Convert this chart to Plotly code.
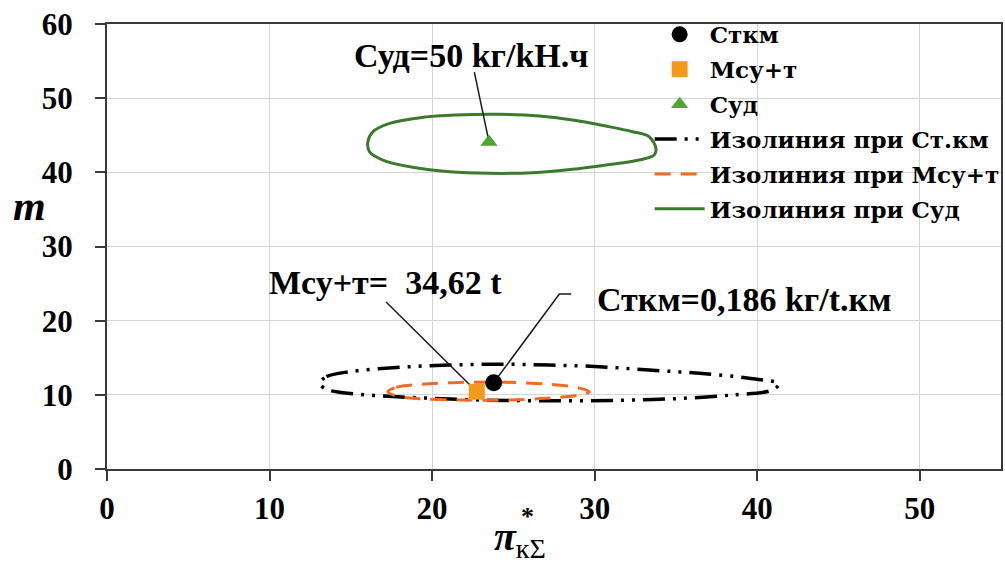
import plotly.graph_objects as go

# ---------------- data ----------------
x_range = [0, 55]
y_range = [0, 60]
x_ticks = [0, 10, 20, 30, 40, 50]
y_ticks = [0, 10, 20, 30, 40, 50, 60]

legend_names = ["Сткм", "Мсу+т", "Суд",
                "Изолиния при Ст.км", "Изолиния при Мсу+т", "Изолиния при Суд"]

# optimum points
ctkm_x, ctkm_y = [23.79], [11.64]
msu_x, msu_y = [22.75], [10.42]
sud_x, sud_y = [23.5], [44.1]

# isoline for Ст.км (black dash-dot-dot)
iso_ctkm_x = [13.08, 13.50, 14.93, 18.00, 21.07, 24.14, 27.21, 30.28, 33.35, 36.43, 39.50,
              41.34, 40.93, 38.47, 35.40, 32.33, 29.26, 26.19, 23.11, 20.04, 16.97, 14.51,
              13.50, 13.08]
iso_ctkm_y = [11.55, 12.45, 13.12, 13.71, 14.02, 14.12, 14.02, 13.79, 13.35, 12.90, 12.23,
              11.46, 10.65, 9.98, 9.53, 9.30, 9.21, 9.21, 9.30, 9.53, 9.84, 10.29,
              10.75, 11.55]

# isoline for Мсу+т (orange dashed)
iso_msu_x = [17.28, 17.80, 19.64, 22.09, 24.55, 27.01, 28.85, 29.67, 29.05, 27.01, 24.55,
             22.09, 19.64, 18.00, 17.28]
iso_msu_y = [10.42, 11.02, 11.46, 11.69, 11.69, 11.46, 11.02, 10.42, 9.98, 9.53, 9.30,
             9.30, 9.44, 9.75, 10.42]

# isoline for Суд (green solid)
iso_sud_x = [16.05, 16.36, 17.38, 19.43, 21.48, 24.14, 26.60, 28.64, 30.69, 32.33, 33.35,
             33.77, 33.66, 32.74, 30.69, 28.64, 26.19, 23.53, 21.07, 18.81, 16.97, 16.15,
             16.05]
iso_sud_y = [44.13, 45.48, 46.61, 47.42, 47.73, 47.82, 47.59, 47.05, 46.24, 45.48, 44.80,
             43.24, 42.33, 41.66, 40.99, 40.41, 39.95, 39.87, 40.08, 40.68, 41.66, 42.78,
             44.13]

# callout texts and their anchor points (data units)
note_texts = ["Суд=50 kг/kН.ч", "Мсу+т=  34,62 t", "Сткм=0,186 kг/t.км"]
note_x = [22.42, 17.14, 39.19]
note_y = [55.82, 25.08, 22.92]
# leader lines (start of leader, ends at the marked point)
lead_sud_x, lead_sud_y = [22.6, 23.5], [53.5, 44.1]
lead_msu_x, lead_msu_y = [17.17, 22.75], [22.52, 10.42]
lead_ctkm_x, lead_ctkm_y = [28.56, 27.83, 23.79], [23.59, 23.59, 11.64]

# ---------------- figure ----------------
SERIF = "Liberation Serif, DejaVu Serif, serif"
LEG_FONT = "DejaVu Serif, Liberation Serif, serif"
fig = go.Figure()

fig.add_trace(go.Scatter(x=iso_ctkm_x, y=iso_ctkm_y, mode="lines", name=legend_names[3],
                         line=dict(color="black", width=3.5, dash="22px,8px,3px,8px,3px,8px",
                                   shape="spline", smoothing=1.0),
                         legendrank=4, legendgroup="g4"))
fig.add_trace(go.Scatter(x=iso_msu_x, y=iso_msu_y, mode="lines", name=legend_names[4],
                         line=dict(color="#f26a21", width=3, dash="16px,10px",
                                   shape="spline", smoothing=1.0),
                         legendrank=5, legendgroup="g5"))
fig.add_trace(go.Scatter(x=iso_sud_x, y=iso_sud_y, mode="lines", name=legend_names[5],
                         line=dict(color="#3b7a2c", width=3, shape="spline", smoothing=1.0),
                         legendrank=6, legendgroup="g6"))

# leader lines
for lx, ly in [(lead_sud_x, lead_sud_y), (lead_msu_x, lead_msu_y), (lead_ctkm_x, lead_ctkm_y)]:
    fig.add_trace(go.Scatter(x=lx, y=ly, mode="lines", showlegend=False, hoverinfo="skip",
                             line=dict(color="#1a1a1a", width=1.5)))

fig.add_trace(go.Scatter(x=ctkm_x, y=ctkm_y, mode="markers", name=legend_names[0],
                         marker=dict(symbol="circle", size=17, color="black"),
                         legendrank=1, legendgroup="g1"))
fig.add_trace(go.Scatter(x=msu_x, y=msu_y, mode="markers", name=legend_names[1],
                         marker=dict(symbol="square", size=16, color="#f39a1c"),
                         legendrank=2, legendgroup="g2"))
fig.add_trace(go.Scatter(x=sud_x, y=sud_y, mode="markers", name=legend_names[2],
                         marker=dict(symbol="triangle-up", size=15, color="#4ea52f"),
                         legendrank=3, legendgroup="g3"))

for t, ax_, ay_ in zip(note_texts, note_x, note_y):
    fig.add_annotation(x=ax_, y=ay_, xref="x", yref="y", text="<b>" + t + "</b>",
                       showarrow=False,
                       font=dict(family=SERIF, size=34, color="black"))

# axis titles
fig.add_annotation(x=-0.087, y=0.591, xref="paper", yref="paper", text="<b><i>m</i></b>",
                   showarrow=False, xanchor="center", yanchor="middle",
                   font=dict(family=SERIF, size=42, color="black"))
fig.add_annotation(x=0.462, y=-0.158, xref="paper", yref="paper",
                   text="<b><i>π</i></b><sub>кΣ</sub>",
                   showarrow=False, xanchor="center", yanchor="middle",
                   font=dict(family=SERIF, size=40, color="black"))
fig.add_annotation(x=0.470, y=-0.106, xref="paper", yref="paper", text="<b>*</b>",
                   showarrow=False, xanchor="center", yanchor="middle",
                   font=dict(family=SERIF, size=26, color="black"))

axis_common = dict(
    showgrid=True, gridcolor="#d4d4d4", gridwidth=1,
    showline=True, linecolor="#3a3a3a", linewidth=2, mirror=True,
    ticks="outside", ticklen=10, tickwidth=2, tickcolor="#3a3a3a",
    tickfont=dict(family=SERIF, size=31, color="black"),
    zeroline=False, fixedrange=True,
)
fig.update_xaxes(range=x_range, tickvals=x_ticks, ticktext=[f"<b>{v}</b>" for v in x_ticks],
                 ticklabelstandoff=1, **axis_common)
fig.update_yaxes(range=y_range, tickvals=y_ticks, ticktext=[f"<b>{v}</b>" for v in y_ticks],
                 ticklabelstandoff=16, **axis_common)

fig.update_layout(
    width=1005, height=565,
    font=dict(family=SERIF),
    margin=dict(l=107, r=4, t=24, b=96, autoexpand=False),
    plot_bgcolor="white", paper_bgcolor="white",
    showlegend=True,
    legend=dict(x=0.607, y=1.025, xanchor="left", yanchor="top",
                bgcolor="rgba(0,0,0,0)", borderwidth=0,
                font=dict(family=LEG_FONT, size=23, color="black", weight="bold"),
                tracegroupgap=2, itemwidth=50),
)

fig.write_html("out.html")
